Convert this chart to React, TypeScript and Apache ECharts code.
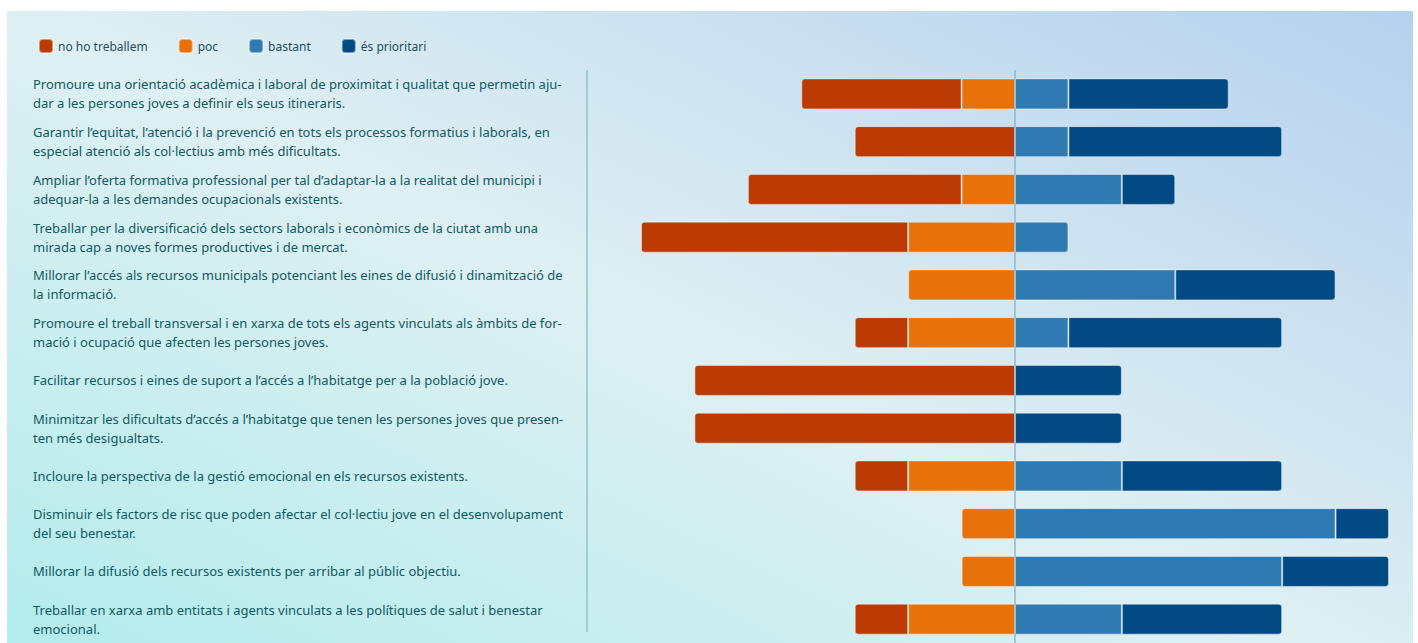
import React, { useEffect, useRef } from "react";
import * as echarts from "echarts";

const categories: string[] = [
  "Promoure una orientació acadèmica i laboral de proximitat i qualitat que permetin aju-\ndar a les persones joves a definir els seus itineraris.",
  "Garantir l’equitat, l’atenció i la prevenció en tots els processos formatius i laborals, en\nespecial atenció als col·lectius amb més dificultats.",
  "Ampliar l’oferta formativa professional per tal d’adaptar-la a la realitat del municipi i\nadequar-la a les demandes ocupacionals existents.",
  "Treballar per la diversificació dels sectors laborals i econòmics de la ciutat amb una\nmirada cap a noves formes productives i de mercat.",
  "Millorar l’accés als recursos municipals potenciant les eines de difusió i dinamització de\nla informació.",
  "Promoure el treball transversal i en xarxa de tots els agents vinculats als àmbits de for-\nmació i ocupació que afecten les persones joves.",
  "Facilitar recursos i eines de suport a l’accés a l’habitatge per a la població jove.",
  "Minimitzar les dificultats d’accés a l’habitatge que tenen les persones joves que presen-\nten més desigualtats.",
  "Incloure la perspectiva de la gestió emocional en els recursos existents.",
  "Disminuir els factors de risc que poden afectar el col·lectiu jove en el desenvolupament\ndel seu benestar.",
  "Millorar la difusió dels recursos existents per arribar al públic objectiu.",
  "Treballar en xarxa amb entitats i agents vinculats a les polítiques de salut i benestar\nemocional.",
];

const seriesNames: string[] = ["no ho treballem", "poc", "bastant", "és prioritari"];

const noHoTreballem: number[] = [3, 3, 4, 5, 0, 1, 6, 6, 1, 0, 0, 1];
const poc: number[] = [1, 0, 1, 2, 2, 2, 0, 0, 2, 1, 1, 2];
const bastant: number[] = [1, 1, 2, 1, 3, 1, 0, 0, 2, 6, 5, 2];
const esPrioritari: number[] = [3, 4, 1, 0, 3, 4, 2, 2, 3, 1, 2, 3];

const colors: string[] = ["#bb3b02", "#e8710a", "#2e7ab1", "#024a83"];

const TEXT_COLOR = "#105a62";

export default function App() {
  const ref = useRef<HTMLDivElement | null>(null);

  useEffect(() => {
    if (!ref.current) return;
    const chart = echarts.init(ref.current, undefined, { renderer: "svg" });

    const R = 3;
    const makeData = (vals: number[], sign: number, outerTest: (i: number) => boolean) =>
      vals.map((v, i) => {
        const item: any = { value: sign * v, itemStyle: {} };
        if (v === 0) item.itemStyle.borderWidth = 0;
        if (v !== 0 && outerTest(i)) {
          item.itemStyle.borderRadius = sign < 0 ? [R, 0, 0, R] : [0, R, R, 0];
        }
        return item;
      });

    const pocData = makeData(poc, -1, (i) => noHoTreballem[i] === 0);
    const noHoData = makeData(noHoTreballem, -1, () => true);
    const bastantData = makeData(bastant, 1, (i) => esPrioritari[i] === 0);
    const prioData = makeData(esPrioritari, 1, () => true);

    const baseSeries = (name: string, color: string, data: any[]) => ({
      name,
      type: "bar",
      stack: "total",
      barWidth: 31,
      data,
      itemStyle: {
        color,
        borderColor: "rgba(255,255,255,0.45)",
        borderWidth: 1,
      },
      emphasis: { disabled: true },
    });

    const option: any = {
      animation: false,
      legend: {
        data: seriesNames,
        left: 33,
        top: 33,
        itemWidth: 14,
        itemHeight: 14,
        itemGap: 30,
        icon: "roundRect",
        textStyle: {
          fontFamily: "Noto Sans",
          fontSize: 12,
          color: "#234f5c",
        },
      },
      grid: {
        left: 641,
        top: 70,
        width: 748,
        height: 578,
        containLabel: false,
      },
      xAxis: {
        type: "value",
        min: -7,
        max: 7,
        show: false,
      },
      yAxis: {
        type: "category",
        data: categories,
        inverse: true,
        axisLine: { show: false },
        axisTick: { show: false },
        splitLine: { show: false },
        axisLabel: {
          align: "left",
          margin: 608,
          fontFamily: "Noto Sans",
          fontSize: 13,
          lineHeight: 19,
          color: TEXT_COLOR,
        },
      },
      graphic: [
        {
          type: "line",
          shape: { x1: 587, y1: 70, x2: 587, y2: 632 },
          style: { stroke: "#9ecfd4", lineWidth: 2 },
          silent: true,
        },
      ],
      series: [
        {
          ...baseSeries(seriesNames[1], colors[1], pocData),
          markLine: {
            silent: true,
            symbol: "none",
            label: { show: false },
            lineStyle: { color: "#8db9cf", width: 1.5, type: "solid" },
            data: [{ xAxis: 0 }],
          },
        },
        baseSeries(seriesNames[0], colors[0], noHoData),
        baseSeries(seriesNames[2], colors[2], bastantData),
        baseSeries(seriesNames[3], colors[3], prioData),
      ],
      color: [colors[1], colors[0], colors[2], colors[3]],
    };

    chart.setOption(option);
    return () => chart.dispose();
  }, []);

  return (
    <div
      style={{
        position: "absolute",
        left: 0,
        top: 0,
        width: 1418,
        height: 643,
        background: "#ffffff",
        overflow: "hidden",
      }}
    >
      <div
        style={{
          position: "absolute",
          left: 7,
          top: 11,
          width: 1406,
          height: 680,
          background:
            "linear-gradient(to top right, #b0ebeb 0%, #dff0f3 50%, #b6d1ee 100%)",
        }}
      />
      <div
        ref={ref}
        style={{ position: "absolute", left: 0, top: 0, width: 1418, height: 643 }}
      />
    </div>
  );
}
